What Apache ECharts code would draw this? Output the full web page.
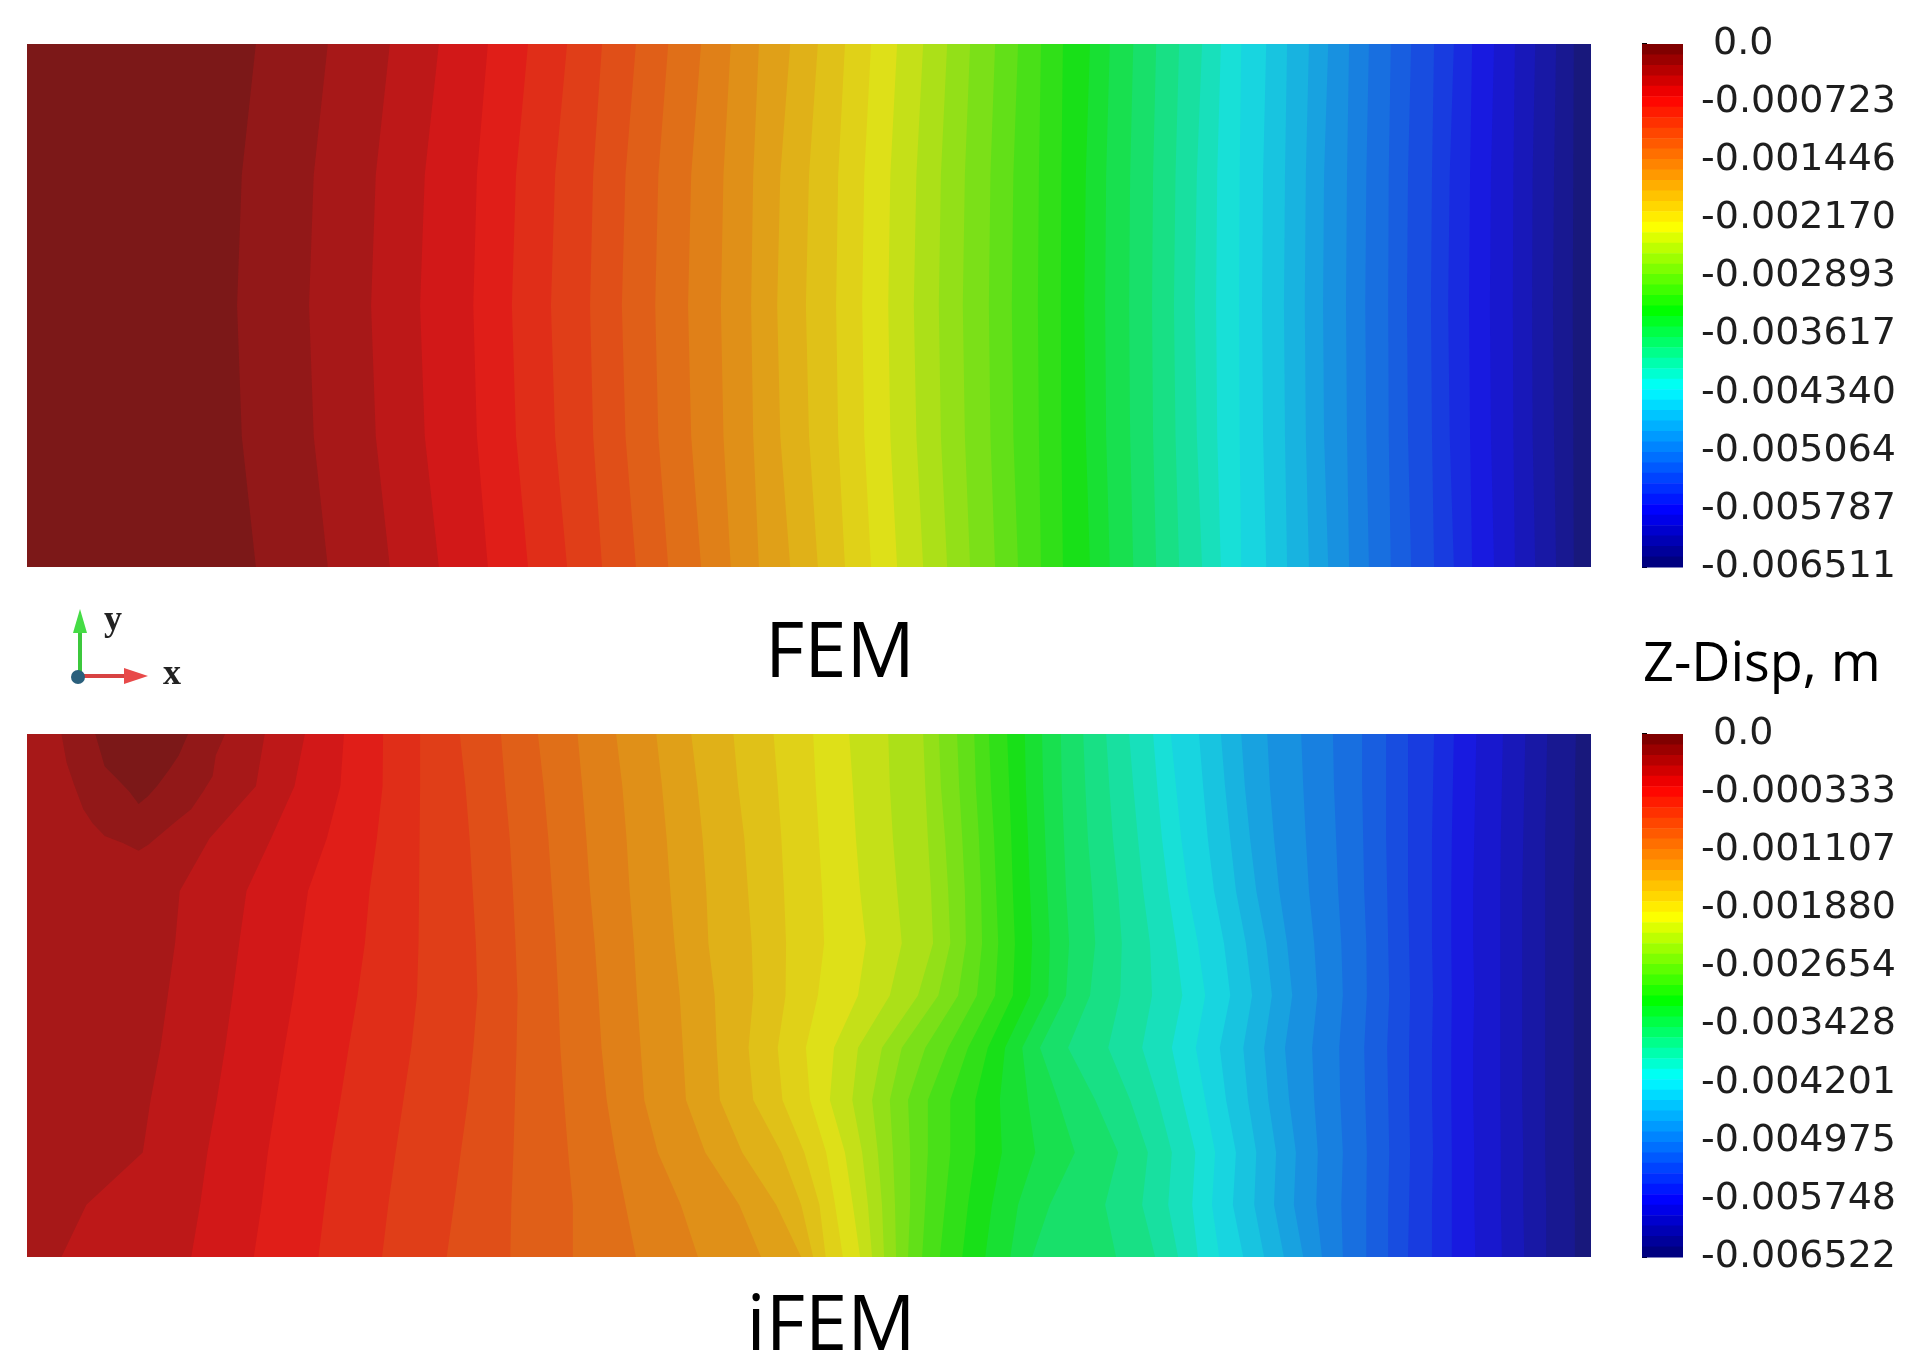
<!DOCTYPE html>
<html>
<head>
<meta charset="utf-8">
<title>Z-Disp FEM / iFEM</title>
<script src="https://cdn.jsdelivr.net/npm/echarts@6/dist/echarts.min.js"></script>
<style>
  html, body { margin: 0; padding: 0; background: #fff; }
  #chart { width: 1932px; height: 1356px; }
</style>
</head>
<body>
<div id="chart"></div>
<script>
// plate is 300 x 100 (x along length, y across width); contour band edges
var levelCount = 50

// colour bar tick labels
var femTicks = ['0.0', '-0.000723', '-0.001446', '-0.002170', '-0.002893', '-0.003617', '-0.004340', '-0.005064', '-0.005787', '-0.006511']
var ifemTicks = ['0.0', '-0.000333', '-0.001107', '-0.001880', '-0.002654', '-0.003428', '-0.004201', '-0.004975', '-0.005748', '-0.006522']

// FEM: x of the edge between band k-1 and band k (k = 1..49), at y = 100, 75, 50, 25, 0
var femRows = [100, 75, 50, 25, 0]
var femBounds = [
  [43.9, 41.2, 40.3, 41.2, 43.9], [57.7, 55.0, 54.1, 55.0, 57.7], [69.6, 66.9, 66.0, 66.9, 69.6],
  [79.0, 76.3, 75.4, 76.3, 79.0], [88.4, 86.3, 85.6, 86.3, 88.4], [96.1, 93.8, 93.0, 93.8, 96.1],
  [103.6, 101.3, 100.5, 101.3, 103.6], [110.3, 108.6, 108.0, 108.6, 110.3], [116.8, 114.8, 114.1, 114.8, 116.8],
  [123.0, 121.1, 120.5, 121.1, 123.0], [129.3, 127.4, 126.8, 127.4, 129.3], [135.0, 133.6, 133.1, 133.6, 135.0],
  [140.4, 139.3, 138.9, 139.3, 140.4], [146.4, 144.5, 143.9, 144.5, 146.4], [151.7, 150.0, 149.4, 150.0, 151.7],
  [156.9, 155.6, 155.2, 155.6, 156.9], [161.9, 160.6, 160.2, 160.6, 161.9], [166.9, 165.6, 165.2, 165.6, 166.9],
  [171.9, 170.6, 170.1, 170.6, 171.9], [176.5, 175.3, 174.9, 175.3, 176.5], [180.9, 179.9, 179.5, 179.9, 180.9],
  [185.7, 184.8, 184.5, 184.8, 185.7], [190.1, 189.2, 188.9, 189.2, 190.1], [194.5, 194.1, 193.9, 194.1, 194.5],
  [198.7, 198.4, 198.3, 198.4, 198.7], [203.9, 203.1, 202.8, 203.1, 203.9], [207.7, 207.0, 206.8, 207.0, 207.7],
  [212.2, 211.6, 211.4, 211.6, 212.2], [216.6, 216.0, 215.8, 216.0, 216.6], [221.0, 220.3, 220.0, 220.3, 221.0],
  [225.4, 224.4, 224.0, 224.4, 225.4], [229.0, 228.3, 228.1, 228.3, 229.0], [232.9, 232.6, 232.5, 232.6, 232.9],
  [237.7, 237.1, 236.9, 237.1, 237.7], [241.7, 241.3, 241.1, 241.3, 241.7], [245.9, 245.3, 245.1, 245.3, 245.9],
  [249.6, 248.8, 248.6, 248.8, 249.6], [253.6, 253.2, 253.0, 253.2, 253.6], [257.4, 256.9, 256.7, 256.9, 257.4],
  [261.6, 261.2, 261.1, 261.2, 261.6], [265.5, 264.9, 264.7, 264.9, 265.5], [269.9, 269.5, 269.3, 269.5, 269.9],
  [273.7, 272.9, 272.6, 272.9, 273.7], [277.2, 276.8, 276.6, 276.8, 277.2], [281.4, 280.8, 280.6, 280.8, 281.4],
  [285.4, 285.1, 285.0, 285.1, 285.4], [289.3, 288.8, 288.7, 288.8, 289.3], [293.3, 292.9, 292.7, 292.9, 293.3],
  [296.7, 296.6, 296.5, 296.6, 296.7]
]

// iFEM: left part is band 2, two closed bands (1 and 0) touch the top edge
var ifemRows = [100, 90, 80, 70, 60, 50, 40, 30, 20, 10, 0]
var ifemIsland1 = [[6.6, 100], [7.6, 94.5], [9.0, 90.4], [10.8, 85.6], [12.6, 82.9], [14.9, 80.5], [18.5, 79.1], [21.4, 77.7],
  [23.2, 78.8], [25.6, 80.8], [28.5, 83.2], [31.5, 85.6], [33.8, 89.0], [35.6, 91.9], [36.2, 95.9], [38.0, 100]]
var ifemIsland0 = [[13.1, 100], [14.9, 93.8], [17.3, 91.4], [19.6, 89.0], [21.4, 86.6], [23.2, 88.1], [25.0, 90.1],
  [27.3, 93.2], [29.1, 95.9], [30.9, 100]]
// edges between band k-1 and band k, k = 3..49
var ifemBounds = [
  [45.6, 43.9, 35.0, 29.3, 28.4, 27.0, 25.6, 23.7, 22.2, 11.4, 6.6],
  [53.3, 51.3, 46.8, 42.1, 40.7, 39.4, 38.0, 36.4, 34.6, 33.2, 31.5],
  [60.8, 60.1, 57.5, 53.9, 52.5, 51.1, 49.4, 47.8, 46.2, 45.0, 43.5],
  [68.3, 68.2, 67.1, 65.7, 64.8, 63.4, 61.7, 60.1, 58.4, 57.1, 55.9],
  [75.4, 75.4, 75.3, 75.2, 75.1, 74.8, 73.7, 72.2, 70.7, 69.3, 68.1],
  [83.0, 84.1, 84.9, 85.5, 86.1, 86.4, 85.6, 84.6, 83.2, 81.9, 80.5],
  [90.9, 91.7, 92.6, 93.2, 93.7, 94.1, 93.9, 93.6, 93.3, 92.9, 92.7],
  [98.0, 99.1, 100.0, 100.7, 101.4, 101.9, 102.3, 103.0, 103.8, 104.7, 104.7],
  [105.6, 106.5, 107.3, 108.0, 108.9, 109.6, 110.2, 111.2, 112.8, 114.8, 116.8],
  [113.0, 114.2, 115.0, 115.6, 116.4, 117.0, 117.7, 118.4, 121.0, 125.4, 128.7],
  [120.7, 121.8, 122.7, 123.4, 124.2, 125.2, 125.8, 126.4, 130.1, 136.6, 140.8],
  [127.4, 128.6, 129.6, 130.3, 130.7, 131.9, 132.3, 132.9, 137.2, 143.7, 148.5],
  [135.5, 136.4, 137.6, 138.3, 139.0, 139.3, 138.4, 139.3, 144.7, 148.5, 150.8],
  [143.2, 144.0, 144.7, 145.2, 145.6, 145.5, 144.0, 144.9, 149.1, 152.0, 153.2],
  [150.8, 151.3, 151.9, 152.5, 152.9, 151.7, 149.4, 150.2, 153.3, 155.0, 156.5],
  [157.7, 158.4, 159.0, 159.8, 160.9, 159.4, 154.8, 154.0, 156.9, 158.4, 159.8],
  [165.2, 165.5, 166.1, 166.9, 167.8, 165.5, 159.4, 158.3, 160.2, 161.3, 162.1],
  [171.9, 172.3, 172.8, 173.4, 173.8, 170.9, 164.0, 162.1, 163.2, 164.0, 164.4],
  [174.9, 175.3, 176.1, 176.7, 177.1, 174.8, 167.8, 165.5, 166.1, 166.5, 166.7],
  [178.4, 178.8, 179.4, 179.9, 180.1, 178.6, 172.3, 169.0, 169.4, 169.4, 169.0],
  [181.7, 182.0, 182.6, 183.0, 183.2, 182.2, 176.7, 172.8, 172.8, 172.3, 171.7],
  [184.5, 184.9, 185.5, 185.9, 186.3, 185.7, 180.5, 177.1, 177.1, 176.1, 175.1],
  [188.0, 188.4, 188.8, 189.1, 189.5, 189.1, 184.3, 181.9, 181.9, 180.5, 179.4],
  [191.4, 191.6, 192.0, 192.4, 192.8, 192.4, 187.6, 186.6, 187.0, 185.1, 183.8],
  [194.7, 194.9, 195.3, 195.7, 196.2, 195.9, 190.9, 192.0, 193.4, 190.1, 188.6],
  [198.3, 198.5, 198.9, 199.3, 199.9, 199.3, 194.3, 197.8, 201.0, 196.2, 192.8],
  [202.6, 203.0, 203.5, 204.3, 204.9, 203.9, 199.7, 204.9, 209.3, 206.8, 208.9],
  [207.0, 207.6, 208.3, 209.3, 210.0, 209.7, 207.4, 211.6, 215.0, 213.9, 216.4],
  [211.4, 212.2, 213.1, 214.1, 215.4, 215.8, 213.9, 217.0, 219.6, 218.9, 220.8],
  [216.0, 216.8, 217.7, 218.9, 220.4, 221.6, 219.6, 221.7, 224.1, 223.5, 224.6],
  [219.4, 220.4, 221.4, 222.7, 224.6, 226.0, 224.2, 226.0, 227.9, 227.3, 228.7],
  [224.8, 225.6, 226.5, 227.7, 229.6, 230.8, 228.8, 230.0, 231.9, 231.3, 233.3],
  [229.0, 229.8, 230.8, 231.9, 233.8, 235.0, 233.3, 234.2, 235.8, 235.4, 237.3],
  [232.9, 233.6, 234.6, 235.8, 237.7, 238.8, 237.3, 238.1, 239.6, 239.2, 241.1],
  [237.9, 238.4, 239.2, 240.2, 241.7, 242.7, 241.3, 242.1, 243.4, 243.0, 244.8],
  [244.4, 244.8, 245.3, 245.9, 246.9, 247.5, 246.5, 246.9, 247.6, 247.3, 248.4],
  [250.5, 250.7, 251.1, 251.5, 252.1, 252.4, 251.7, 251.9, 252.4, 252.1, 252.4],
  [256.1, 256.1, 256.3, 256.5, 256.9, 257.0, 256.5, 256.7, 257.0, 256.9, 256.9],
  [260.7, 260.7, 260.7, 260.9, 261.1, 261.3, 260.9, 261.1, 261.3, 261.1, 261.1],
  [264.9, 264.9, 264.9, 264.9, 265.1, 265.3, 265.1, 265.1, 265.3, 265.1, 264.9],
  [269.9, 269.7, 269.5, 269.5, 269.5, 269.7, 269.5, 269.5, 269.7, 269.5, 269.5],
  [273.7, 273.5, 273.3, 273.2, 273.2, 273.3, 273.2, 273.2, 273.3, 273.3, 273.3],
  [278.0, 277.8, 277.6, 277.4, 277.4, 277.6, 277.4, 277.4, 277.6, 277.6, 277.8],
  [283.1, 282.9, 282.7, 282.6, 282.6, 282.6, 282.6, 282.6, 282.7, 282.7, 282.9],
  [287.4, 287.2, 287.0, 286.8, 286.8, 286.8, 286.8, 286.8, 287.0, 287.0, 287.2],
  [291.6, 291.4, 291.2, 291.2, 291.2, 291.2, 291.2, 291.2, 291.2, 291.4, 291.4],
  [297.1, 296.9, 296.9, 296.7, 296.7, 296.7, 296.7, 296.7, 296.7, 296.9, 296.9]
]

// rainbow colour map (t = 1 top of bar, t = 0 bottom)
var cmapStops = [[0, [0, 0, 128]], [0.10, [0, 0, 255]], [0.34, [0, 255, 255]], [0.49, [0, 255, 0]],
  [0.655, [255, 255, 0]], [0.905, [255, 0, 0]], [1, [128, 0, 0]]]

function cmap(t) {
  for (var i = 1; i < cmapStops.length; i++) {
    if (t <= cmapStops[i][0]) {
      var a = cmapStops[i - 1], b = cmapStops[i]
      var f = (t - a[0]) / (b[0] - a[0])
      return [0, 1, 2].map(function(j) { return a[1][j] + (b[1][j] - a[1][j]) * f })
    }
  }
  return cmapStops[cmapStops.length - 1][1]
}
function rgb(c) {
  return 'rgb(' + c.map(function(v) { return Math.round(v) }).join(',') + ')'
}
// the plot is lit, so its colours are a bit duller than the bar
function bandColor(level) {
  var c = cmap(1 - level / (levelCount - 1))
  return rgb(c.map(function(v) { return 24 + v * 0.784 }))
}
function barColor(step) {
  return rgb(cmap(1 - step / (levelCount - 1)))
}

function rect(level) {
  return { level: level, pts: [[0, 100], [0, 0], [300, 0], [300, 100]] }
}
// each band is painted from its left edge to the right end of the plate, in order
function edgeShapes(rows, bounds, firstLevel) {
  return bounds.map(function(b, i) {
    var pts = rows.map(function(y, r) { return [b[r], y] })
    pts.push([300, 0], [300, 100])
    return { level: firstLevel + i, pts: pts }
  })
}

var femShapes = [rect(0)].concat(edgeShapes(femRows, femBounds, 1))
var ifemShapes = [rect(2), { level: 1, pts: ifemIsland1 }, { level: 0, pts: ifemIsland0 }]
  .concat(edgeShapes(ifemRows, ifemBounds, 3))

function bandSeries(shapes, idx) {
  return {
    type: 'custom',
    xAxisIndex: idx,
    yAxisIndex: idx,
    silent: true,
    data: shapes.map(function(s, i) { return [0, 0, i] }),
    renderItem: function(params, api) {
      var s = shapes[params.dataIndex]
      return {
        type: 'polygon',
        shape: { points: s.pts.map(function(p) { return api.coord(p) }) },
        style: { fill: bandColor(s.level) }
      }
    }
  }
}

var barSteps = []
for (var j = 0; j < levelCount; j++) barSteps.push(j)

function barSeries(idx) {
  return {
    type: 'custom',
    xAxisIndex: idx,
    yAxisIndex: idx,
    silent: true,
    data: barSteps.map(function(s) { return [0, 0, s] }),
    renderItem: function(params, api) {
      var s = barSteps[params.dataIndex]
      var h = 9 / levelCount
      var p0 = api.coord([0, s * h])
      var p1 = api.coord([1, (s + 1) * h])
      return {
        type: 'rect',
        shape: { x: p0[0], y: Math.min(p0[1], p1[1]), width: p1[0] - p0[0], height: Math.abs(p1[1] - p0[1]) + 0.5 },
        style: { fill: barColor(s) }
      }
    }
  }
}

function barAxis(idx, ticks) {
  return {
    gridIndex: idx,
    type: 'value',
    position: 'right',
    inverse: true,
    min: 0,
    max: 9,
    interval: 1,
    axisLine: { show: false },
    splitLine: { show: false },
    axisTick: { show: true, length: 5, lineStyle: { color: '#000', width: 2 } },
    axisLabel: {
      margin: 18,
      align: 'left',
      fontFamily: 'DejaVu Sans',
      fontSize: 38,
      color: '#1e1e1e',
      formatter: function(v) {
        var t = ticks[Math.round(v)]
        return t.charAt(0) === '-' ? t : ' ' + t
      }
    }
  }
}

var myChart = echarts.init(document.getElementById('chart'))
var option = {
  animation: false,
  backgroundColor: '#fff',
  grid: [
    { left: 27, top: 44, width: 1564, height: 523 },
    { left: 27, top: 734, width: 1564, height: 523 },
    { left: 1642, top: 44, width: 41, height: 523 },
    { left: 1642, top: 734, width: 41, height: 523 }
  ],
  xAxis: [
    { gridIndex: 0, type: 'value', min: 0, max: 300, show: false },
    { gridIndex: 1, type: 'value', min: 0, max: 300, show: false },
    { gridIndex: 2, type: 'value', min: 0, max: 1, show: false },
    { gridIndex: 3, type: 'value', min: 0, max: 1, show: false }
  ],
  yAxis: [
    { gridIndex: 0, type: 'value', min: 0, max: 100, show: false },
    { gridIndex: 1, type: 'value', min: 0, max: 100, show: false },
    barAxis(2, femTicks),
    barAxis(3, ifemTicks)
  ],
  series: [
    bandSeries(femShapes, 0),
    bandSeries(ifemShapes, 1),
    barSeries(2),
    barSeries(3)
  ],
  graphic: [
    { type: 'text', x: 840, y: 655, style: { text: 'FEM', font: '76px "Open Sans"', fill: '#000', align: 'center', verticalAlign: 'middle' } },
    { type: 'text', x: 831, y: 1328, style: { text: 'iFEM', font: '76px "Open Sans"', fill: '#000', align: 'center', verticalAlign: 'middle' } },
    { type: 'text', x: 1643, y: 666, style: { text: 'Z-Disp, m', font: '54px "Open Sans"', fill: '#000', align: 'left', verticalAlign: 'middle' } },
    // little x-y triad
    { type: 'line', shape: { x1: 80, y1: 677, x2: 80, y2: 628 }, style: { stroke: '#3cc83c', lineWidth: 4 } },
    { type: 'polygon', shape: { points: [[73, 633], [87, 633], [80, 609]] }, style: { fill: '#45dc45' } },
    { type: 'line', shape: { x1: 80, y1: 676, x2: 128, y2: 676 }, style: { stroke: '#d84242', lineWidth: 4 } },
    { type: 'polygon', shape: { points: [[124, 668], [124, 684], [148, 676]] }, style: { fill: '#e84a4a' } },
    { type: 'circle', shape: { cx: 78, cy: 677, r: 7 }, style: { fill: '#2a5f7c' } },
    { type: 'text', x: 113, y: 621, style: { text: 'y', font: 'bold 36px "Liberation Serif"', fill: '#222', align: 'center', verticalAlign: 'middle' } },
    { type: 'text', x: 172, y: 675, style: { text: 'x', font: 'bold 36px "Liberation Serif"', fill: '#222', align: 'center', verticalAlign: 'middle' } }
  ]
}
myChart.setOption(option)
window.addEventListener('resize', function() {
  myChart.resize()
})
</script>
</body>
</html>
